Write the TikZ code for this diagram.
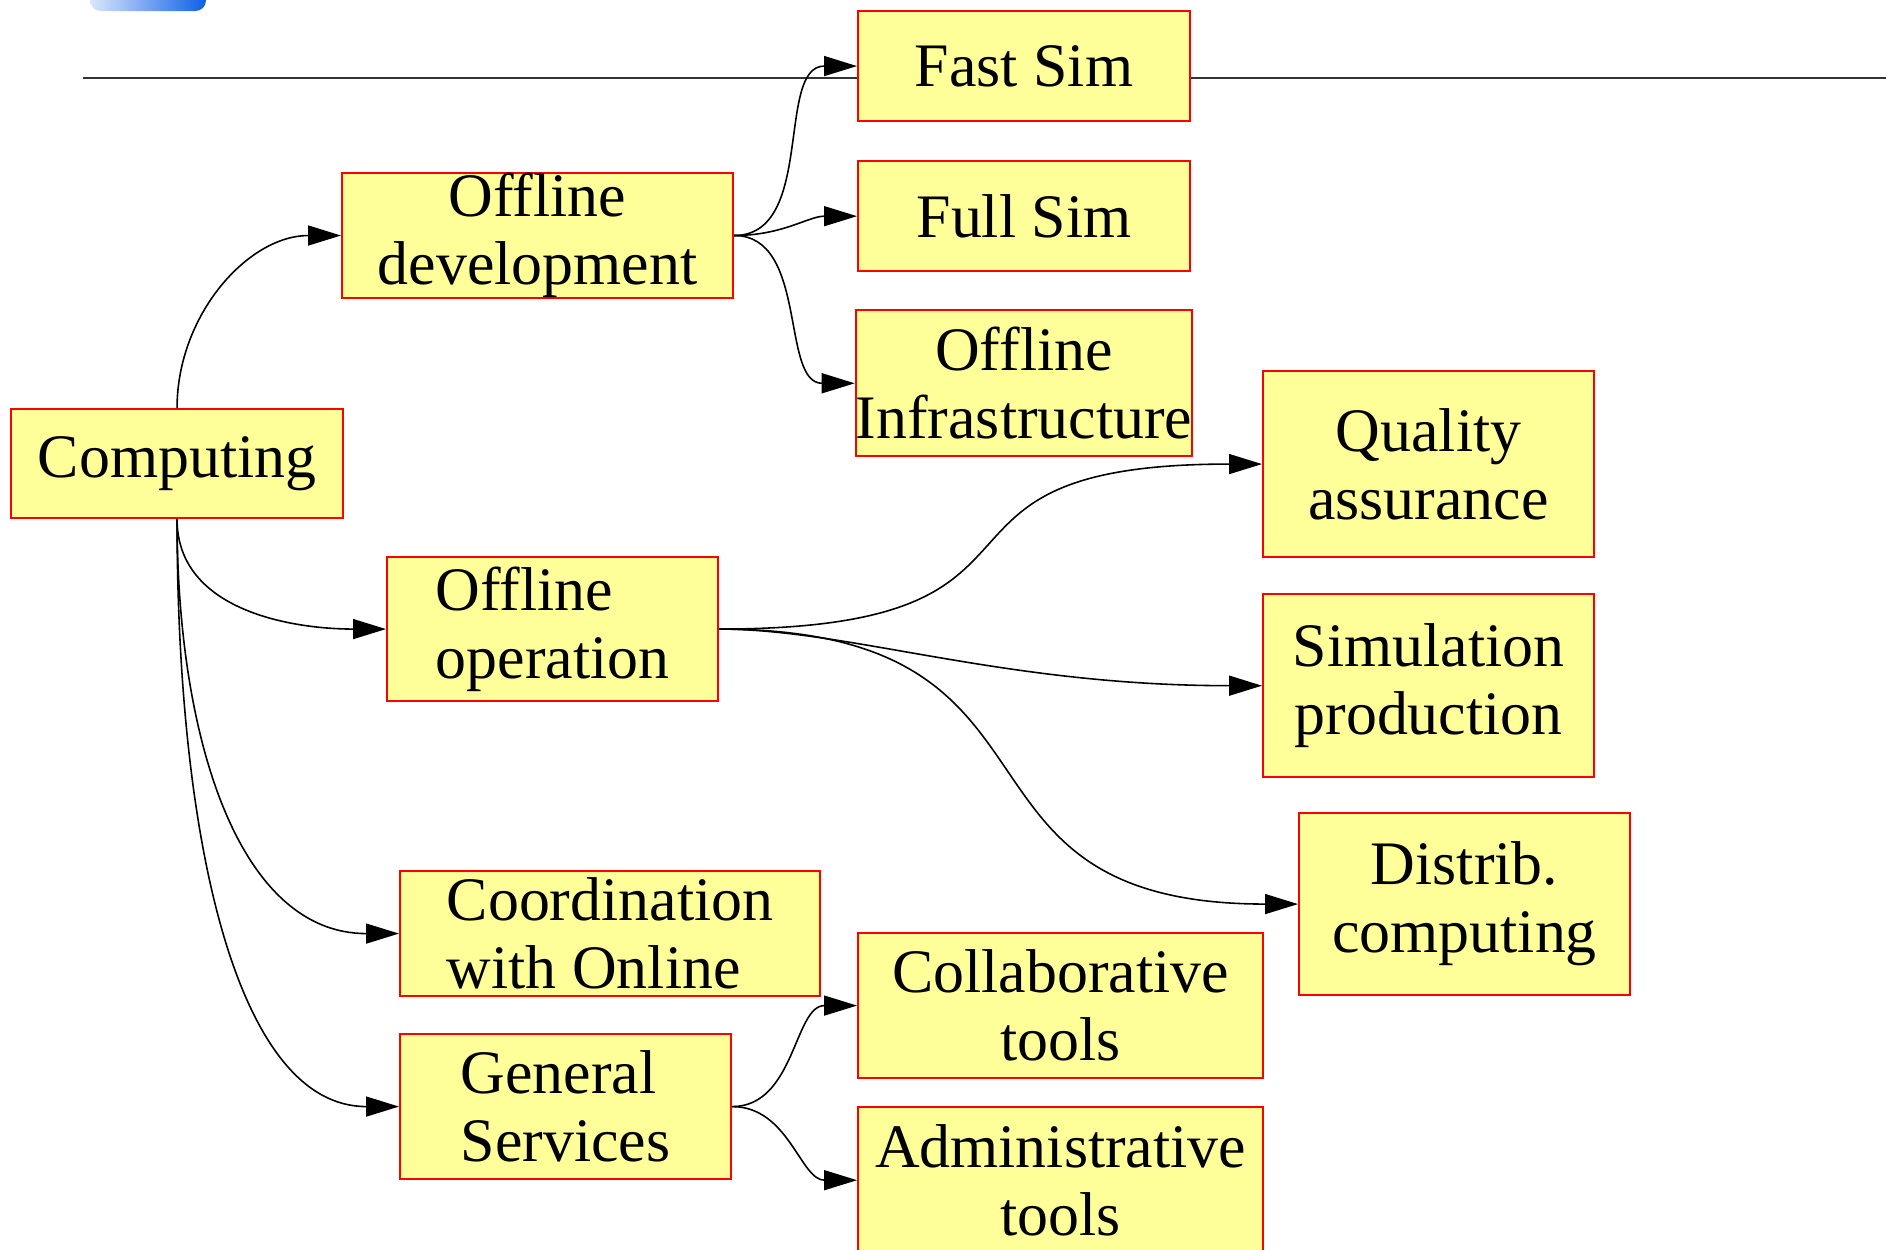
\documentclass[tikz,border=0pt]{standalone}
\usepackage{fontspec}
\setmainfont{Liberation Serif}
\usetikzlibrary{positioning}
\usetikzlibrary{calc}
\usetikzlibrary{arrows.meta}
\definecolor{boxfill}{RGB}{255,255,153}
\definecolor{blobblue}{RGB}{15,95,230}
\tikzset{
    % Solid triangular heads, as graphviz draws them
    >={Triangle[length=3.3mm, width=2mm]},
%
    % The yellow work-area boxes with their red frame
    area box/.style={
        draw=red, fill=boxfill, line width=0.6pt, inner sep=0,
        font=\fontsize{17.6}{19.4}\selectfont, align=center},
%
    % Thin connectors from a parent area to its children
    link/.style={->, draw=black, line width=0.45pt}}

\begin{document}
\begin{tikzpicture}

\useasboundingbox (0,0) rectangle (18.86,-12.49);

% remains of the slide title bar
\shade [left color=blobblue!15, right color=blobblue, rounded corners=3pt]
    (0.90,0.10) rectangle (2.06,-0.11);

\coordinate (rule left) at (0.83,-0.78);
\coordinate (rule right) at (18.86,-0.78);
\draw [line width=0.6pt, black!80] (rule left) -- (rule right);

\node [area box, anchor=north west, minimum width=3.32cm, minimum height=1.09cm]
    (computing) at (0.10,-4.08) {Computing};

\node [area box, anchor=north west, minimum width=3.91cm, minimum height=1.24cm]
    (offline dev) at (3.41,-1.72) {Offline\\development};
\node [area box, align=left, anchor=north west, minimum width=3.31cm,
    minimum height=1.44cm]
    (offline op) at (3.86,-5.56) {Offline\\operation};
\node [area box, align=left, anchor=north west, minimum width=4.20cm,
    minimum height=1.25cm]
    (coordination) at (3.99,-8.70) {Coordination\\with Online};
\node [area box, align=left, anchor=north west, minimum width=3.31cm,
    minimum height=1.45cm]
    (general) at (3.99,-10.33) {General\\Services};

\node [area box, anchor=north west, minimum width=3.32cm, minimum height=1.10cm]
    (fast sim) at (8.57,-0.10) {Fast Sim};
\node [area box, below=0.38cm of fast sim, minimum width=3.32cm,
    minimum height=1.10cm]
    (full sim) {Full Sim};
\node [area box, below=0.37cm of full sim, minimum width=3.31cm,
    minimum height=1.46cm]
    (infra) {Offline\\Infrastructure};

\node [area box, anchor=north west, minimum width=3.31cm, minimum height=1.86cm]
    (quality) at (12.62,-3.70) {Quality\\assurance};
\node [area box, below=0.35cm of quality, minimum width=3.31cm,
    minimum height=1.83cm]
    (sim prod) {Simulation\\production};
\node [area box, anchor=north west, minimum width=3.31cm, minimum height=1.82cm]
    (distrib) at (12.98,-8.12) {Distrib.\\computing};

\node [area box, anchor=north west, minimum width=4.05cm, minimum height=1.45cm]
    (collab) at (8.57,-9.32) {Collaborative\\tools};
\node [area box, below=0.27cm of collab, minimum width=4.05cm,
    minimum height=1.46cm]
    (admin) {Administrative\\tools};

\draw [link] (computing.north) to[out=90, in=180] (offline dev.west);
\draw [link] (computing.south) to[out=-90, in=180] (offline op.west);
\draw [link] (computing.south)
    .. controls +(0,-2.2) and +(-1.6,0) .. (coordination.west);
\draw [link] (computing.south)
    .. controls +(0,-3.3) and +(-1.6,0) .. (general.west);

\foreach \child in {fast sim, full sim, infra}
    \draw [link] (offline dev.east) to[out=0, in=180] (\child.west);

\draw [link] (offline op.east) to[out=0, in=180, looseness=1.7] (quality.west);
\draw [link] (offline op.east)
    .. controls +(1.3,0) and +(-2.6,0) .. (sim prod.west);
\draw [link] (offline op.east) to[out=0, in=180, looseness=1.5] (distrib.west);

\foreach \child in {collab, admin}
    \draw [link] (general.east) to[out=0, in=180] (\child.west);

\end{tikzpicture}
\end{document}
